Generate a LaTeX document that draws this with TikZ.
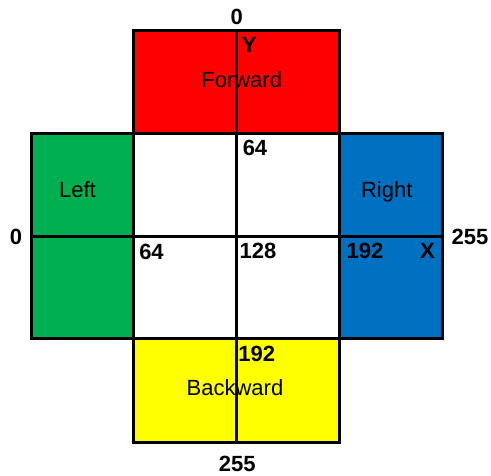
\documentclass[tikz,border=0pt]{standalone}
\usepackage{fontspec}
\setmainfont{Liberation Sans}
\definecolor{fwdred}{RGB}{255,0,0}
\definecolor{leftgreen}{RGB}{0,176,80}
\definecolor{rightblue}{RGB}{0,112,192}
\definecolor{backyellow}{RGB}{255,255,0}
\begin{document}
\begin{tikzpicture}[x=1pt,y=-1pt,
  box/.style={draw=black,line width=3pt},
  axis/.style={draw=black,line width=3pt},
  lbl/.style={inner sep=0pt,anchor=base,font=\fontsize{22}{26}\selectfont},
  num/.style={lbl,font=\fontsize{22}{26}\selectfont\bfseries}]
\useasboundingbox (0,0) rectangle (491,476);
% colored regions
\path[box,fill=fwdred] (133.5,31) rectangle (339,134);
\path[box,fill=leftgreen] (31,134) rectangle (133.5,339);
\path[box,fill=rightblue] (339,134) rectangle (442.5,339);
\path[box,fill=backyellow] (133.5,339) rectangle (339,442.5);
% axes
\coordinate (ytop) at (236.5,31);
\coordinate (ybot) at (236.5,442.5);
\coordinate (xleft) at (31,236.5);
\coordinate (xright) at (443.5,236.5);
\draw[axis] (ytop) -- (ybot);
\draw[axis] (xleft) -- (xright);
% labels
\node[num] (t0) at (236.7,25) {0};
\node[num] (ty) at (249.3,53) {Y};
\node[lbl] (fwd) at (241.7,87.5) {Forward};
\node[num] (t64) at (255,156) {64};
\node[lbl] (lft) at (77.5,197.5) {Left};
\node[lbl] (rgt) at (386.7,197.5) {Right};
\node[num] (l0) at (16,245) {0};
\node[num] (r255) at (470,245) {255};
\node[num] (c64) at (151.5,259.5) {64};
\node[num] (c128) at (258,258.5) {128};
\node[num] (c192) at (365,259) {192};
\node[num] (tx) at (427.5,259) {X};
\node[num] (b192) at (256.7,361.5) {192};
\node[lbl] (bwd) at (235,396) {Backward};
\node[num] (b255) at (237.2,471.5) {255};
\end{tikzpicture}
\end{document}
